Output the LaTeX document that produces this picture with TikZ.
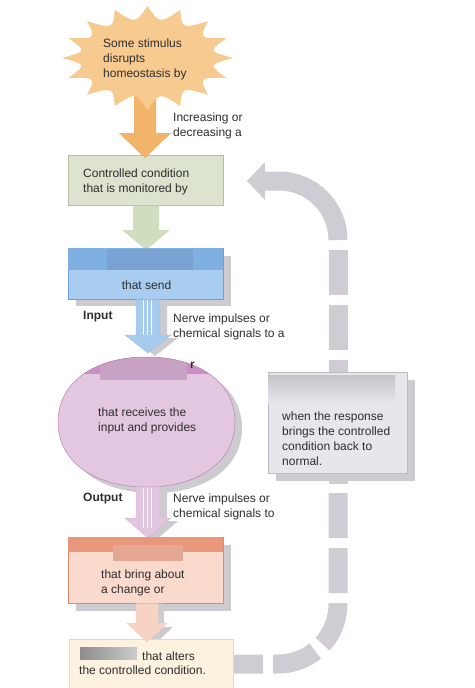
\documentclass[tikz,border=0pt]{standalone}
\usepackage{fontspec}
\setmainfont{Liberation Sans}
\usetikzlibrary{shapes.geometric}
\begin{document}
\definecolor{txtc}{HTML}{2E2E2E}
\definecolor{burstc}{HTML}{F7CA90}
\definecolor{orarrow}{HTML}{F1B469}
\definecolor{greenbox}{HTML}{DCE4CF}
\definecolor{greenline}{HTML}{B3C0A2}
\definecolor{greenarrow}{HTML}{D1DDBF}
\definecolor{bluetop}{HTML}{80B0E2}
\definecolor{bluebody}{HTML}{A9CDF1}
\definecolor{blueline}{HTML}{6F9FD3}
\definecolor{bluepatch}{HTML}{7BA3D2}
\definecolor{bluearrow}{HTML}{A7CAEF}
\definecolor{purpband}{HTML}{C990C3}
\definecolor{purpbody}{HTML}{E3C7E0}
\definecolor{purpline}{HTML}{B883B2}
\definecolor{purppatch}{HTML}{C8A2C5}
\definecolor{purparrow}{HTML}{E2C6E0}
\definecolor{salmtop}{HTML}{E9977C}
\definecolor{salmbody}{HTML}{F9DACC}
\definecolor{salmline}{HTML}{E08A6B}
\definecolor{salmpatch}{HTML}{E3A794}
\definecolor{salmarrow}{HTML}{F7D3C4}
\definecolor{respbox}{HTML}{FDF2DF}
\definecolor{respline}{HTML}{F1D7A8}
\definecolor{fbgray}{HTML}{CFCCD3}
\definecolor{graybox}{HTML}{E8E6EB}
\definecolor{grayline}{HTML}{BDBAC2}
\definecolor{shadowc}{HTML}{CDCBD0}
\newcommand\blockarrowpath[6]{({#1-#5},{#2}) -- ({#1+#5},{#2}) -- ({#1+#5},{#3}) -- ({#1+#6},{#3}) -- ({#1},{#4}) -- ({#1-#6},{#3}) -- ({#1-#5},{#3}) -- cycle}
% rounded (squarish) oval: centre x, centre y, half width, half height, control factor
\newcommand\ovalpath[5]{({#1+#3},{#2}) .. controls ({#1+#3},{#2-#5*#4}) and ({#1+#5*#3},{#2-#4}) .. ({#1},{#2-#4})
  .. controls ({#1-#5*#3},{#2-#4}) and ({#1-#3},{#2-#5*#4}) .. ({#1-#3},{#2})
  .. controls ({#1-#3},{#2+#5*#4}) and ({#1-#5*#3},{#2+#4}) .. ({#1},{#2+#4})
  .. controls ({#1+#5*#3},{#2+#4}) and ({#1+#3},{#2+#5*#4}) .. ({#1+#3},{#2}) -- cycle}
\begin{tikzpicture}[x=1pt,y=-1pt,font=\fontsize{12}{15}\selectfont,
  txt/.style={anchor=north west,align=left,inner sep=0pt,text=txtc},
  ctxt/.style={anchor=north,align=center,inner sep=0pt,text=txtc},
  shadowfill/.style={fill=shadowc},
  fbline/.style={draw=fbgray,line width=19pt},
  fbdash/.style={fbline,dash pattern=on 45pt off 10pt},
  whiteline/.style={draw=white,line width=0.8pt}]
\useasboundingbox (0,0) rectangle (474,688);
\fill[white] (0,0) rectangle (474,688);

% ---------- feedback loop (gray dashed arrow) ----------
\coordinate (fbtop) at (338,240);
\coordinate (fbcorner) at (338,181);
\coordinate (fbhead) at (265,181);
\coordinate (fbtip) at (247,181);
\draw[fbline,rounded corners=59pt] (fbtop) -- (fbcorner) -- (fbhead);
\fill[fbgray] (265,162) -- (fbtip) -- (265,200) -- cycle;
\draw[fbdash] (338,250) -- (338,484);
\draw[fbdash,rounded corners=60pt] (338,493) -- (338,664) -- (225,664);

% ---------- gray box ----------
\fill[shadowfill] (276,380) rectangle (415,481);
\node[draw=grayline,fill=graybox,minimum width=139pt,minimum height=101pt,inner sep=0pt,anchor=north west] (fbbox) at (268,372) {};
\shade[top color=shadowc!90!black!80, bottom color=graybox] (268.5,375) rectangle (395,404);
\node[txt] (fbtext) at (282,412) {when the response\\brings the controlled\\condition back to\\normal.};

% ---------- starburst + orange arrow ----------
\fill[orarrow] \blockarrowpath{145}{90}{133}{158}{11}{26};
\fill[burstc] ({147.5+85.5*cos(0)},{58+52*sin(0)})
  \foreach \i in {1,...,16} { .. controls ({147.5+62*cos(\i*22.5-11.25)},{58+35*sin(\i*22.5-11.25)}) .. ({147.5+85.5*cos(\i*22.5)},{58+52*sin(\i*22.5)}) } -- cycle;
\node[txt] (stim) at (103,38.5) {Some stimulus\\disrupts\\homeostasis by};
\node[txt] (incr) at (173,112.5) {Increasing or\\decreasing a};

% ---------- controlled condition ----------
\node[draw=greenline,fill=greenbox,minimum width=155pt,minimum height=50pt,inner sep=0pt,anchor=north west] (cc) at (68,155) {};
\fill[orarrow] \blockarrowpath{145}{140}{133}{158}{11}{26};
\node[txt] (cctext) at (83,168.5) {Controlled condition\\that is monitored by};
\fill[greenarrow] \blockarrowpath{146}{205.5}{230}{250}{13}{24};

% ---------- receptors (blue) ----------
\fill[shadowfill] (76,256) rectangle (231,306);
\node[draw=blueline,fill=bluebody,minimum width=155pt,minimum height=51pt,inner sep=0pt,anchor=north west] (rec) at (68,248) {};
\fill[bluetop] (68.4,248.4) rectangle (222.6,270);
\fill[bluepatch] (107,249) rectangle (193,270);
\node[ctxt] (sendtext) at (146.5,280.5) {that send};
\fill[shadowc] \blockarrowpath{155}{299.5}{338}{356}{12}{23};
\filldraw[fill=bluearrow,draw=blueline!70] \blockarrowpath{148}{299.5}{335}{353}{12}{23};
\foreach \xx in {143,147,151} \draw[whiteline] (\xx,300) -- (\xx,338);
\node[txt,font=\fontsize{12}{15}\selectfont\bfseries] (input) at (83,311.5) {Input};
\node[txt] (nerve1) at (173,313.5) {Nerve impulses or\\chemical signals to a};

% ---------- control center (purple oval) ----------
\coordinate (cent) at (146.5,422);
\fill[shadowfill] \ovalpath{153.5}{428}{88.5}{65}{0.6};
\fill[purpbody] \ovalpath{146.5}{422}{88.5}{65}{0.6};
\begin{scope}
  \clip \ovalpath{146.5}{422}{88.5}{65}{0.6};
  \fill[purpband] (50,350) rectangle (250,374);
  \fill[purppatch] (100,355) rectangle (187,380);
\end{scope}
\draw[purpline,line width=0.5pt] \ovalpath{146.5}{422}{88.5}{65}{0.6};
\fill[bluearrow] ({148-23},335) -- (148,353) -- ({148+23},335) -- cycle;
\node[txt,font=\fontsize{12}{15}\selectfont\bfseries] (rlet) at (190,362) {r};
\node[txt] (centtext) at (98,407.5) {that receives the\\input and provides};

% ---------- output arrow ----------
\fill[shadowc] \blockarrowpath{155}{489}{521}{541}{12}{23};
\filldraw[fill=purparrow,draw=purpline!60] \blockarrowpath{148}{486.5}{518}{538}{12}{23};
\foreach \xx in {143,147,151} \draw[whiteline] (\xx,487.5) -- (\xx,528);
\node[txt,font=\fontsize{12}{15}\selectfont\bfseries] (output) at (83,492.5) {Output};
\node[txt] (nerve2) at (173,493.5) {Nerve impulses or\\chemical signals to};

% ---------- effectors (salmon) ----------
\fill[shadowfill] (76,545) rectangle (231,611);
\node[draw=salmline,fill=salmbody,minimum width=155pt,minimum height=66pt,inner sep=0pt,anchor=north west] (eff) at (68,537) {};
\fill[salmtop] (68.4,537.4) rectangle (222.6,552);
\fill[salmpatch] (113,545) rectangle (183,561);
\node[txt] (efftext) at (101,569.5) {that bring about\\a change or};
\fill[shadowc] \blockarrowpath{153}{603.5}{627}{646}{11}{20};
\filldraw[fill=salmarrow,draw=salmline!40] \blockarrowpath{147}{603.5}{623}{642}{11}{20};

% ---------- response ----------
\node[draw=respline,fill=respbox,minimum width=164pt,minimum height=55pt,inner sep=0pt,anchor=north west] (resp) at (69,639) {};
\fill[salmarrow] ({147-20},623) -- (147,642) -- ({147+20},623) -- cycle;
\shade[left color=black!45, right color=black!20] (80,647) rectangle (137,659);
\node[txt] (resp1) at (142,651.5) {that alters};
\node[txt] (resp2) at (79,665.5) {the controlled condition.};
\end{tikzpicture}
\end{document}
